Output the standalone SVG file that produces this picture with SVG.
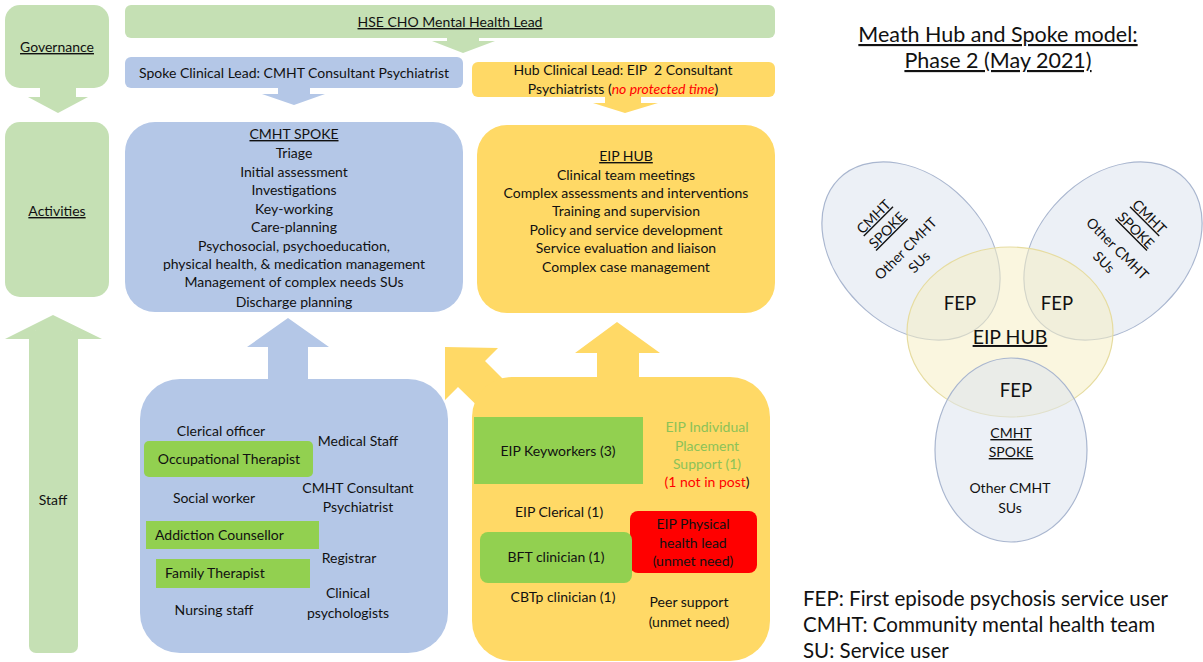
<svg xmlns="http://www.w3.org/2000/svg" width="1203" height="662" viewBox="0 0 1203 662">
<style>
text{font-family:Lato,"Liberation Sans",sans-serif;fill:#111;font-size:14px;text-anchor:middle}
.g{fill:#c5e0b4}.b{fill:#b4c7e7}.y{fill:#ffd966}.bg{fill:#92d050}.rd{fill:#ff0000}
.u{text-decoration:underline}
.st{text-anchor:start}
.v{fill:#dde3ef;fill-opacity:0.55;stroke:#a9b6cf;stroke-width:1.2}
.vy{fill:#f6efc4;fill-opacity:0.55;stroke:#e6dca0;stroke-width:1.2}
text.big{font-size:18.5px}
text.hub{font-size:19.5px}
text.ttl{font-size:21.5px}
text.leg{font-size:20.5px;text-anchor:start}
text.lg{fill:#8cc258}
tspan.r{fill:#ff0000}
</style>
<rect width="1203" height="662" fill="#fff"/>
<g id="connectors">
<path class="g" d="M40,85H76V97H88L58,113L28,97H40Z"/>
<path class="g" d="M447,36H479V41H495L463,53L432,41H447Z"/>
<path class="b" d="M278,86H310V94H325L294,105L262,94H278Z"/>
<path class="y" d="M605,95H641V103H658L625,113L593,103H605Z"/>
<path class="g" d="M35,330H72V339H102L53,315L5,339H35Z"/>
<rect class="g" x="29" y="330" width="49" height="323" rx="7"/>
<path class="b" d="M268,385V347H247L288,318L329,347H308V385Z"/>
<path class="y" d="M597,385V353H575L617,322L660,353H639V385Z"/>
<path class="y" d="M445,347L498,348L485,361L525,401L499,427L458,387L445,400Z"/>
</g>
<g id="governance"><rect class="g" x="5" y="5" width="104" height="83" rx="15"/><text x="57" y="52" class="u">Governance</text></g>
<g id="activities"><rect class="g" x="5" y="122" width="104" height="175" rx="15"/><text x="57" y="216" class="u">Activities</text></g>
<g id="staff"><text x="53" y="505">Staff</text></g>
<g id="hse"><rect class="g" x="125" y="5" width="650" height="33" rx="6"/><text x="450" y="27" class="u">HSE CHO Mental Health Lead</text></g>
<g id="spoke-lead"><rect class="b" x="125" y="57" width="338" height="31" rx="6"/><text x="294" y="78">Spoke Clinical Lead: CMHT Consultant Psychiatrist</text></g>
<g id="hub-lead"><rect class="y" x="472" y="62" width="303" height="35" rx="6"/><text x="623" y="75">Hub Clinical Lead: EIP &#160;2 Consultant</text><text x="623" y="94">Psychiatrists (<tspan class="r" font-style="italic">no protected time</tspan>)</text></g>
<g id="cmht-spoke"><rect class="b" x="125" y="122" width="338" height="190" rx="30"/>
<text x="294" y="139" class="u">CMHT SPOKE</text>
<text x="294" y="158">Triage</text>
<text x="294" y="177">Initial assessment</text>
<text x="294" y="195">Investigations</text>
<text x="294" y="214">Key-working</text>
<text x="294" y="232">Care-planning</text>
<text x="294" y="251">Psychosocial, psychoeducation,</text>
<text x="294" y="269">physical health, &amp; medication management</text>
<text x="294" y="287">Management of complex needs SUs</text>
<text x="294" y="307">Discharge planning</text>
</g>
<g id="eip-hub"><rect class="y" x="477" y="125" width="298" height="188" rx="30"/>
<text x="626" y="161" class="u">EIP HUB</text>
<text x="626" y="180">Clinical team meetings</text>
<text x="626" y="198">Complex assessments and interventions</text>
<text x="626" y="216">Training and supervision</text>
<text x="626" y="235">Policy and service development</text>
<text x="626" y="253">Service evaluation and liaison</text>
<text x="626" y="272">Complex case management</text>
</g>
<g id="cmht-staff"><rect class="b" x="140" y="379" width="308" height="274" rx="40"/>
<text x="221" y="436">Clerical officer</text>
<text x="358" y="446">Medical Staff</text>
<rect class="bg" x="144" y="441" width="169" height="36" rx="5"/><text x="229" y="464">Occupational Therapist</text>
<text x="214" y="503">Social worker</text>
<text x="358" y="493">CMHT Consultant</text><text x="358" y="512">Psychiatrist</text>
<rect class="bg" x="146" y="521" width="173" height="28"/><text x="155" y="540" class="st">Addiction Counsellor</text>
<rect class="bg" x="156" y="559" width="154" height="29"/><text x="165" y="578" class="st">Family Therapist</text>
<text x="349" y="563">Registrar</text>
<text x="348" y="598">Clinical</text><text x="348" y="618">psychologists</text>
<text x="214" y="615">Nursing staff</text>
</g>
<g id="eip-staff"><rect class="y" x="472" y="377" width="298" height="284" rx="40"/>
<rect class="bg" x="474" y="417" width="169" height="67"/><text x="558" y="456">EIP Keyworkers (3)</text>
<text x="707" y="432" class="lg">EIP Individual</text>
<text x="707" y="451" class="lg">Placement</text>
<text x="707" y="469" class="lg">Support (1)</text>
<text x="707" y="487"><tspan class="r">(1 not in post</tspan>)</text>
<text x="559" y="517">EIP Clerical (1)</text>
<rect class="rd" x="630" y="511" width="127" height="62" rx="8"/>
<text x="693" y="529">EIP Physical</text><text x="693" y="548">health lead</text><text x="693" y="566">(unmet need)</text>
<rect class="bg" x="480" y="532" width="152" height="51" rx="8"/><text x="556" y="562">BFT clinician (1)</text>
<text x="563" y="602">CBTp clinician (1)</text>
<text x="689" y="607">Peer support</text><text x="689" y="627">(unmet need)</text>
</g>
<g id="title"><text x="998" y="42" class="ttl u">Meath Hub and Spoke model:</text><text x="998" y="68" class="ttl u">Phase 2 (May 2021)</text></g>
<g id="venn">
<ellipse class="v" cx="0" cy="0" rx="74" ry="102" transform="translate(911,251) rotate(-45)"/>
<ellipse class="v" cx="0" cy="0" rx="74" ry="102" transform="translate(1113,251) rotate(45)"/>
<ellipse class="vy" cx="1010" cy="332" rx="103" ry="85"/>
<ellipse class="v" cx="1011" cy="450" rx="76" ry="92"/>
<g transform="translate(880,223) rotate(-45)"><text x="0" y="-4" class="u">CMHT</text><text x="0" y="15" class="u">SPOKE</text></g>
<g transform="translate(912,255) rotate(-45)"><text x="0" y="-4">Other CMHT</text><text x="0" y="15">SUs</text></g>
<g transform="translate(1143,223) rotate(45)"><text x="0" y="-4" class="u">CMHT</text><text x="0" y="15" class="u">SPOKE</text></g>
<g transform="translate(1111,255) rotate(45)"><text x="0" y="-4">Other CMHT</text><text x="0" y="15">SUs</text></g>
<text x="960" y="310" class="big">FEP</text>
<text x="1057" y="310" class="big">FEP</text>
<text x="1010" y="344" class="hub u">EIP HUB</text>
<text x="1016" y="397" class="big">FEP</text>
<text x="1011" y="438" class="u">CMHT</text><text x="1011" y="457" class="u">SPOKE</text>
<text x="1010" y="493">Other CMHT</text><text x="1010" y="513">SUs</text>
</g>
<g id="legend">
<text x="803" y="606" class="leg">FEP: First episode psychosis service user</text>
<text x="803" y="632" class="leg">CMHT: Community mental health team</text>
<text x="803" y="658" class="leg">SU: Service user</text>
</g>
</svg>
